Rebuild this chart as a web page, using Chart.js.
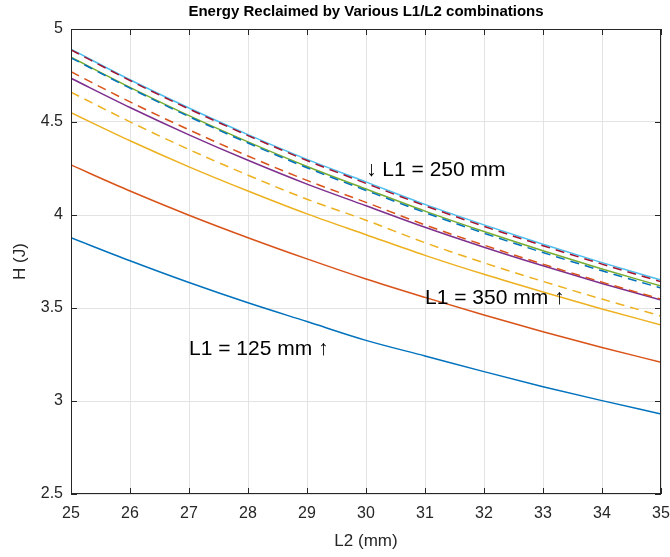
<!DOCTYPE html>
<html>
<head>
<meta charset="utf-8">
<script src="https://cdn.jsdelivr.net/npm/chart.js@4.4.1/dist/chart.umd.min.js"></script>
<style>
  html, body { margin: 0; padding: 0; background: #fff; }
  #wrap { width: 670px; height: 557px; }
</style>
</head>
<body>
<div id="wrap"><canvas id="grafica"></canvas></div>
<script>
// valores, L2 en mm
const L2 = [25, 26, 27, 28, 29, 30, 31, 32, 33, 34, 35];

const serieAzul     = [3.878, 3.754, 3.637, 3.528, 3.427, 3.326, 3.242, 3.158, 3.077, 3.002, 2.930];
const serieNaranja  = [4.269, 4.129, 3.999, 3.878, 3.764, 3.656, 3.557, 3.462, 3.372, 3.288, 3.208];
const serieAmarillo = [4.550, 4.399, 4.259, 4.129, 4.006, 3.894, 3.783, 3.681, 3.586, 3.495, 3.409];
const serieMorado   = [4.735, 4.578, 4.431, 4.294, 4.166, 4.050, 3.934, 3.827, 3.727, 3.632, 3.543];
const serieVerde    = [4.848, 4.686, 4.534, 4.393, 4.261, 4.140, 4.021, 3.911, 3.808, 3.710, 3.618];
const serieCeleste  = [4.891, 4.727, 4.575, 4.432, 4.299, 4.178, 4.057, 3.947, 3.843, 3.744, 3.651];
// las discontinuas
const serieRojoD     = [4.888, 4.723, 4.570, 4.427, 4.293, 4.170, 4.050, 3.939, 3.835, 3.736, 3.641];
const serieAzulD     = [4.845, 4.682, 4.529, 4.387, 4.254, 4.132, 4.013, 3.902, 3.798, 3.700, 3.607];
const serieNaranjaD  = [4.770, 4.608, 4.458, 4.317, 4.186, 4.068, 3.947, 3.838, 3.736, 3.639, 3.548];
const serieAmarilloD = [4.660, 4.501, 4.352, 4.214, 4.085, 3.972, 3.851, 3.743, 3.643, 3.548, 3.457];

const ticksX = [25, 26, 27, 28, 29, 30, 31, 32, 33, 34, 35];
const ticksY = [2.5, 3, 3.5, 4, 4.5, 5];

// textos sobre la grafica (x, y en unidades de datos)
const notas = [
  { texto: "\u2193 L1 = 250 mm", x: 30, y: 4.24 },
  { texto: "L1 = 350 mm \u2191", x: 31, y: 3.55 },
  { texto: "L1 = 125 mm \u2191", x: 27, y: 3.28 }
];

const colores = {
  azul: "#0072BD",
  naranja: "#D95319",
  amarillo: "#EDB120",
  morado: "#7E2F8E",
  verde: "#77AC30",
  celeste: "#4DBEEE",
  rojo: "#A2142F"
};

const fuente = "'Liberation Sans', Arial, Helvetica, sans-serif";
const negro = "#262626";

function puntos(valores) {
  return L2.map((x, i) => ({ x: x, y: valores[i] }));
}

function linea(valores, color, discontinua) {
  return {
    data: puntos(valores),
    borderColor: color,
    backgroundColor: color,
    borderWidth: 1.5,
    borderDash: discontinua ? [9, 6] : [],
    pointRadius: 0,
    fill: false,
    cubicInterpolationMode: "monotone",
    order: discontinua ? 0 : 1
  };
}

// caja, marcas hacia adentro, titulo y notas
const extras = {
  id: "extras",
  afterDatasetsDraw(chart) {
    const ctx = chart.ctx;
    const a = chart.chartArea;
    const sx = chart.scales.x;
    const sy = chart.scales.y;
    ctx.save();
    ctx.strokeStyle = negro;
    ctx.lineWidth = 1;
    ctx.strokeRect(a.left + 0.5, a.top + 0.5, a.right - a.left - 1, a.bottom - a.top - 1);
    ctx.beginPath();
    ticksX.forEach(v => {
      const px = Math.round(sx.getPixelForValue(v)) + 0.5;
      ctx.moveTo(px, a.bottom); ctx.lineTo(px, a.bottom - 6);
      ctx.moveTo(px, a.top); ctx.lineTo(px, a.top + 6);
    });
    ticksY.forEach(v => {
      const py = Math.round(sy.getPixelForValue(v)) + 0.5;
      ctx.moveTo(a.left, py); ctx.lineTo(a.left + 6, py);
      ctx.moveTo(a.right, py); ctx.lineTo(a.right - 6, py);
    });
    ctx.stroke();

    ctx.fillStyle = "#000";
    ctx.font = "21px " + fuente;
    ctx.textAlign = "left";
    ctx.textBaseline = "middle";
    notas.forEach(n => {
      ctx.fillText(n.texto, sx.getPixelForValue(n.x), sy.getPixelForValue(n.y));
    });

    ctx.font = "bold 15px " + fuente;
    ctx.textAlign = "center";
    ctx.fillText("Energy Reclaimed by Various L1/L2 combinations", (a.left + a.right) / 2, 12);
    ctx.restore();
  }
};

new Chart(document.getElementById("grafica"), {
  type: "line",
  data: {
    datasets: [
      linea(serieAzul, colores.azul, false),
      linea(serieNaranja, colores.naranja, false),
      linea(serieAmarillo, colores.amarillo, false),
      linea(serieMorado, colores.morado, false),
      linea(serieVerde, colores.verde, false),
      linea(serieCeleste, colores.celeste, false),
      linea(serieRojoD, colores.rojo, true),
      linea(serieAzulD, colores.azul, true),
      linea(serieNaranjaD, colores.naranja, true),
      linea(serieAmarilloD, colores.amarillo, true)
    ]
  },
  options: {
    responsive: true,
    maintainAspectRatio: false,
    animation: false,
    layout: { padding: { top: 29, right: 9, left: 0, bottom: 0 } },
    plugins: {
      legend: { display: false },
      tooltip: { enabled: false },
      title: { display: false }
    },
    scales: {
      x: {
        type: "linear",
        min: 25,
        max: 35,
        afterFit: s => { s.height = 63; s.paddingLeft = 0; s.paddingRight = 0; },
        afterBuildTicks: s => { s.ticks = ticksX.map(v => ({ value: v })); },
        grid: { color: "#e3e3e3", drawTicks: false },
        border: { display: false },
        ticks: {
          color: negro,
          padding: 10,
          maxRotation: 0,
          font: { family: fuente, size: 16 },
          callback: v => String(v)
        },
        title: {
          display: true,
          text: "L2 (mm)",
          color: negro,
          font: { family: fuente, size: 17 },
          padding: { top: 0, bottom: 5 }
        }
      },
      y: {
        min: 2.5,
        max: 5,
        afterFit: s => { s.width = 71; s.paddingTop = 0; s.paddingBottom = 0; },
        afterBuildTicks: s => { s.ticks = ticksY.map(v => ({ value: v })); },
        grid: { color: "#e3e3e3", drawTicks: false },
        border: { display: false },
        ticks: {
          color: negro,
          padding: 8,
          font: { family: fuente, size: 16 },
          callback: v => String(v)
        },
        title: {
          display: true,
          text: "H (J)",
          color: negro,
          font: { family: fuente, size: 17 },
          padding: { top: 10, bottom: 0 }
        }
      }
    }
  },
  plugins: [extras]
});
</script>
</body>
</html>
